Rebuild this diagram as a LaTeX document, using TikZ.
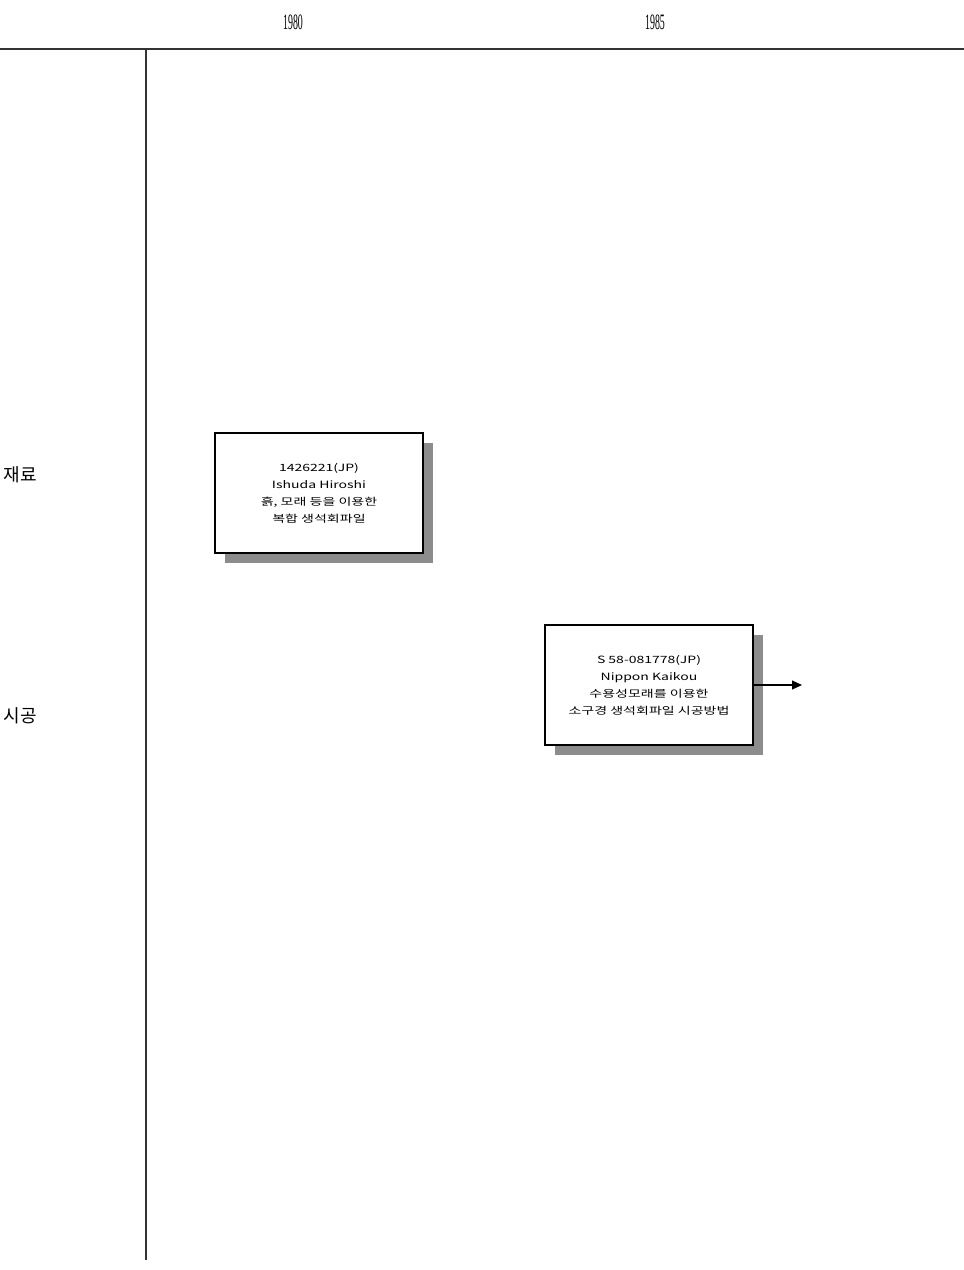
\documentclass[tikz,border=0pt]{standalone}
\usepackage{fontspec}
\setmainfont{Liberation Sans}
\newfontfamily\kr{Noto Sans CJK KR}
\newfontfamily\yr{Liberation Serif}
\usetikzlibrary{arrows.meta}
\newcommand{\wl}[1]{\scalebox{1.4}[1]{#1}}
\begin{document}
\begin{tikzpicture}[x=1pt,y=-1pt,
  card/.style={draw=black,fill=white,line width=1.1pt,minimum width=208pt,minimum height=120pt,align=center,inner sep=0pt,font=\kr\fontsize{10}{17}\selectfont},
  shade/.style={fill=black!45,draw=none,minimum width=208pt,minimum height=120pt,inner sep=0pt},
  axis/.style={line width=1.2pt,black!80},
  yearlbl/.style={font=\yr\fontsize{22}{24}\selectfont},
  rowlbl/.style={font=\kr\fontsize{18}{20}\selectfont,anchor=west}]
\useasboundingbox (0,0) rectangle (964,1270);
% axes
\coordinate (tl) at (0,49);
\coordinate (tr) at (964,49);
\coordinate (vt) at (146,49);
\coordinate (vb) at (146,1260);
\draw[axis] (tl) -- (tr);
\draw[axis] (vt) -- (vb);
% years
\node[yearlbl] (y1980) at (293,22) {\scalebox{0.45}[1]{1980}};
\node[yearlbl] (y1985) at (655,22) {\scalebox{0.45}[1]{1985}};
% row labels
\node[rowlbl] (r1) at (0,475) {재료};
\node[rowlbl] (r2) at (0,716) {시공};
% box 1
\node[shade] (s1) at (329,503) {};
\node[card] (b1) at (319,493) {\wl{1426221(JP)}\\\wl{Ishuda Hiroshi}\\\wl{흙, 모래 등을 이용한}\\\wl{복합 생석회파일}};
% box 2
\node[shade] (s2) at (659,695) {};
\node[card] (b2) at (649,685) {\wl{S 58-081778(JP)}\\\wl{Nippon Kaikou}\\\wl{수용성모래를 이용한}\\\wl{소구경 생석회파일 시공방법}};
\coordinate (a2) at (802,685);
\draw[line width=1.1pt,-{Triangle[length=10pt,width=9pt]}] (b2.east) -- (a2);
\end{tikzpicture}
\end{document}
